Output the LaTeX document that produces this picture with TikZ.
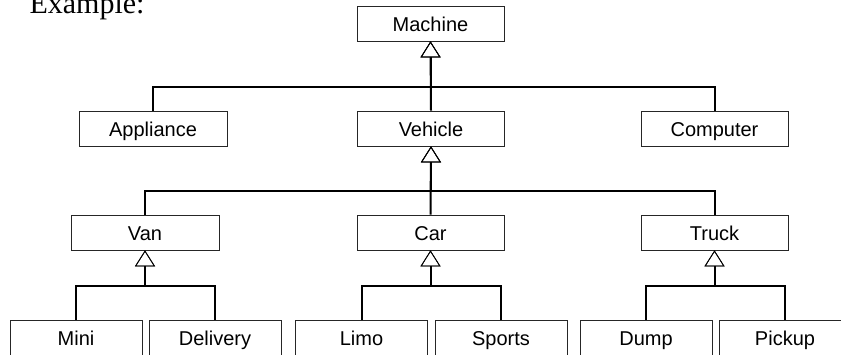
\documentclass[tikz,border=0pt]{standalone}
\usepackage{fontspec}
\setmainfont{Liberation Serif}
\setsansfont{Liberation Sans}
\usetikzlibrary{arrows.meta}

\begin{document}
\begin{tikzpicture}[x=1pt,y=-1pt,
	cls/.style={draw=black!85,line width=0.8pt,inner sep=0pt,minimum width=147pt,minimum height=35pt,text height=20pt,text depth=3pt,font=\sffamily\fontsize{20}{24}\selectfont},
	leaf/.style={cls,minimum width=132pt},
	isa/.style={line width=2pt,-{Triangle[open,width=20pt,length=16pt,line width=0.8pt]}}]

	\useasboundingbox (0,0) rectangle (841,355);
	\clip (0,0) rectangle (841,354.4);

	\node 	(title)		at	(26,14) 	[anchor=base west,font=\fontsize{30}{36}\selectfont]{Example:};

	% top
	\node 	(machine)	at	(430.5,23.5) 	[cls]{Machine};

	\node 	(appliance)	at	(153,128.5) 	[cls,minimum width=148pt]{Appliance};
	\node 	(vehicle)	at	(431,128.5) 	[cls]{Vehicle};
	\node 	(computer)	at	(714.5,128.5) 	[cls]{Computer};

	\draw[isa]	(appliance.north)	-- ++(0,-24) -| 	(machine.south);
	\draw[isa]	(vehicle.north)		-- 		(machine.south);
	\draw[isa]	(computer.north)	-- ++(0,-24) -| 	(machine.south);

	% vehicles
	\node 	(van)		at	(145,232.5) 	[cls,minimum width=148pt]{Van};
	\node 	(car)		at	(430.5,232.5) 	[cls]{Car};
	\node 	(truck)		at	(714.5,232.5) 	[cls]{Truck};

	\draw[isa]	(van.north)	-- ++(0,-24) -| 	(vehicle.south);
	\draw[isa]	(car.north)	-- 		(vehicle.south);
	\draw[isa]	(truck.north)	-- ++(0,-24) -| 	(vehicle.south);

	% leaves
	\node 	(mini)		at	(76,337.5) 	[leaf]{Mini};
	\node 	(delivery)	at	(215,337.5) 	[leaf]{Delivery};
	\node 	(limo)		at	(361.5,337.5) 	[leaf]{Limo};
	\node 	(sports)	at	(501,337.5) 	[leaf]{Sports};
	\node 	(dump)		at	(646,337.5) 	[leaf]{Dump};
	\node 	(pickup)	at	(785,337.5) 	[leaf]{Pickup};

	\draw[isa]	(mini.north)	 -- ++(0,-34) -| 	(van.south);
	\draw[isa]	(delivery.north) -- ++(0,-34) -| 	(van.south);
	\draw[isa]	(limo.north)	 -- ++(0,-34) -| 	(car.south);
	\draw[isa]	(sports.north)	 -- ++(0,-34) -| 	(car.south);
	\draw[isa]	(dump.north)	 -- ++(0,-34) -| 	(truck.south);
	\draw[isa]	(pickup.north)	 -- ++(0,-34) -| 	(truck.south);

\end{tikzpicture}
\end{document}
